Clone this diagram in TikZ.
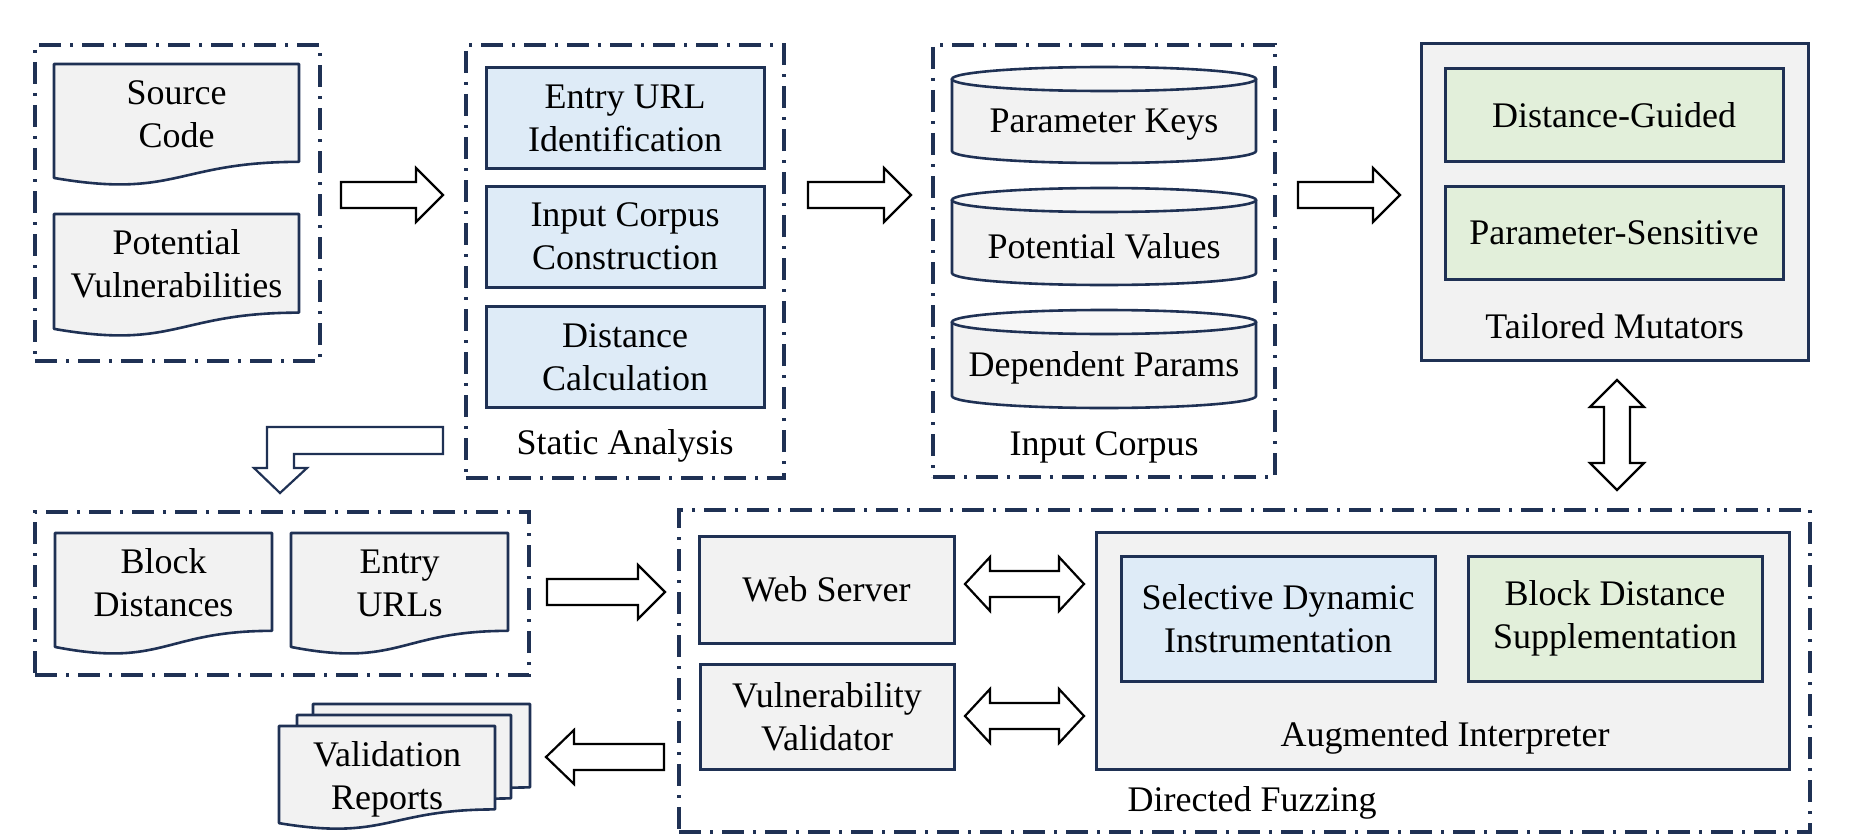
\documentclass[tikz,border=0pt]{standalone}
\usepackage{fontspec}
\setmainfont{Liberation Serif}
\definecolor{navy}{RGB}{31,49,84}
\definecolor{lgray}{RGB}{242,242,242}
\definecolor{ltop}{RGB}{247,247,247}
\definecolor{lblue}{RGB}{222,235,247}
\definecolor{lgreen}{RGB}{226,239,218}
\tikzset{
  txt/.style={align=center, font=\fontsize{36}{43}\selectfont, inner sep=0pt},
  ddbox/.style={draw=navy, line width=3.2pt, dash pattern=on 22pt off 9pt on 3pt off 9pt, inner sep=0pt},
  solidbox/.style={draw=navy, line width=3pt, txt},
  graybox/.style={solidbox, fill=lgray},
  bluebox/.style={solidbox, fill=lblue},
  greenbox/.style={solidbox, fill=lgreen},
  docline/.style={draw=navy, line width=2.6pt, fill=lgray, line join=round},
  cylline/.style={draw=navy, line width=2.6pt},
  barrow/.style={draw=black, line width=2.2pt, fill=white, line join=miter},
  larrow/.style={draw=navy, line width=2.2pt, fill=white, line join=miter},
}
% document shape: x0, y0, x1, h
\newcommand\docshape[4]{%
  \pgfmathsetmacro\dxm{(#1+#3)/2}%
  \filldraw[docline] (#1,#2) -- (#3,#2) -- (#3,#2+0.802*#4)
    .. controls (\dxm,#2+0.802*#4) and (\dxm,#2+1.107*#4) .. (#1,#2+0.934*#4) -- cycle;}
% cylinder: x0, x1, ytop, ybottom
\newcommand\cylshape[4]{%
  \pgfmathsetmacro\crx{(#2-#1)/2}%
  \pgfmathsetmacro\ccx{(#1+#2)/2}%
  \fill[lgray] (#1,#3+12) -- (#1,#4-12) arc[start angle=180,end angle=0,x radius=\crx,y radius=12] -- (#2,#3+12) -- cycle;
  \draw[cylline] (#1,#3+12) -- (#1,#4-12) arc[start angle=180,end angle=0,x radius=\crx,y radius=12] -- (#2,#3+12);
  \filldraw[cylline, fill=ltop] (\ccx,#3+12) ellipse[x radius=\crx, y radius=12];}
% right arrow: x0, x1, cy, head length
\newcommand\rarrow[4]{%
  \draw[barrow] (#1,#3-13) -- (#2-#4,#3-13) -- (#2-#4,#3-27) -- (#2,#3) -- (#2-#4,#3+27) -- (#2-#4,#3+13) -- (#1,#3+13) -- cycle;}
% left arrow: x0 (tip), x1, cy, head length
\newcommand\larr[4]{%
  \draw[barrow] (#2,#3-13) -- (#1+#4,#3-13) -- (#1+#4,#3-27) -- (#1,#3) -- (#1+#4,#3+27) -- (#1+#4,#3+13) -- (#2,#3+13) -- cycle;}
% horizontal double arrow: x0, x1, cy, head length
\newcommand\hdarrow[4]{%
  \draw[barrow] (#1,#3) -- (#1+#4,#3-27) -- (#1+#4,#3-13) -- (#2-#4,#3-13) -- (#2-#4,#3-27) -- (#2,#3) -- (#2-#4,#3+27) -- (#2-#4,#3+13) -- (#1+#4,#3+13) -- (#1+#4,#3+27) -- cycle;}
% vertical double arrow: cx, y0, y1, head length
\newcommand\vdarrow[4]{%
  \draw[barrow] (#1,#2) -- (#1+27,#2+#4) -- (#1+13,#2+#4) -- (#1+13,#3-#4) -- (#1+27,#3-#4) -- (#1,#3) -- (#1-27,#3-#4) -- (#1-13,#3-#4) -- (#1-13,#2+#4) -- (#1-27,#2+#4) -- cycle;}
\begin{document}
\begin{tikzpicture}[x=1pt,y=-1pt]
\useasboundingbox (0,0) rectangle (1849,840);

% ---------- group 1: inputs ----------
\node[ddbox, minimum width=285pt, minimum height=316pt] (g1) at (177.5,203) {};
\docshape{54}{64}{299}{122}
\node[txt] (src) at (176.5,114) {Source\\Code};
\docshape{54}{214}{299}{123}
\node[txt] (pv) at (176.5,264) {Potential\\Vulnerabilities};

% ---------- static analysis ----------
\node[ddbox, minimum width=318pt, minimum height=433pt] (sa) at (625,261.5) {};
\node[bluebox, minimum width=278pt, minimum height=101pt] (eui) at (625,118) {Entry URL\\Identification};
\node[bluebox, minimum width=278pt, minimum height=101pt] (icc) at (625,236.5) {Input Corpus\\Construction};
\node[bluebox, minimum width=278pt, minimum height=101pt] (dc) at (625,357) {Distance\\Calculation};
\node[txt] (lsa) at (625,446) {Static Analysis};

% ---------- input corpus ----------
\node[ddbox, minimum width=342pt, minimum height=432pt] (ic) at (1104,261) {};
\cylshape{952}{1256}{67}{163}
\node[txt] (pk) at (1104,125) {Parameter Keys};
\cylshape{952}{1256}{188}{285}
\node[txt] (pval) at (1104,246) {Potential Values};
\cylshape{952}{1256}{310}{408}
\node[txt] (dp) at (1104,368) {Dependent Params};
\node[txt] (lic) at (1104,447) {Input Corpus};

% ---------- tailored mutators ----------
\node[graybox, minimum width=387pt, minimum height=316pt] (tm) at (1614.5,202) {};
\node[greenbox, minimum width=338pt, minimum height=93pt] (dg) at (1614,115) {Distance-Guided};
\node[greenbox, minimum width=338pt, minimum height=93pt] (ps) at (1614,233) {Parameter-Sensitive};
\node[txt] (ltm) at (1614.5,326) {Tailored Mutators};

% ---------- top arrows ----------
\rarrow{341}{443}{195}{27}
\rarrow{808}{911}{195}{27}
\rarrow{1298}{1400}{195}{27}
\vdarrow{1617}{380}{490}{27}

% ---------- L arrow ----------
\draw[larrow] (267,427) -- (443,427) -- (443,454) -- (294,454) -- (294,468) -- (307,468)
  -- (280,493) -- (254,468) -- (267,468) -- cycle;

% ---------- static outputs ----------
\node[ddbox, minimum width=494pt, minimum height=163pt] (g2) at (282,593.5) {};
\docshape{55}{533}{272}{122}
\node[txt] (bd) at (163.5,583) {Block\\Distances};
\docshape{291}{533}{508}{122}
\node[txt] (eu) at (399.5,583) {Entry\\URLs};

% ---------- validation reports ----------
\docshape{313}{704}{530}{104}
\docshape{297}{715}{511}{104}
\docshape{279}{726}{495}{104}
\node[txt] (vr) at (387,779) {Validation\\Reports};

\rarrow{547}{665}{592}{27}
\larr{546}{664}{757}{28}

% ---------- directed fuzzing ----------
\node[ddbox, minimum width=1131pt, minimum height=322pt] (df) at (1244.5,671) {};
\node[graybox, minimum width=255pt, minimum height=107pt] (ws) at (826.5,589.5) {Web Server};
\node[graybox, minimum width=254pt, minimum height=105pt] (vv) at (827,716.5) {Vulnerability\\Validator};
\node[graybox, minimum width=693pt, minimum height=237pt] (ai) at (1442.5,650.5) {};
\node[bluebox, minimum width=314pt, minimum height=125pt] (sdi) at (1278,618.5) {Selective Dynamic\\Instrumentation};
\node[greenbox, minimum width=294pt, minimum height=125pt] (bds) at (1615,618.5) {Block Distance\\Supplementation};
\node[txt] (lai) at (1445,738) {Augmented Interpreter};
\node[txt] (ldf) at (1252,803) {Directed Fuzzing};

\hdarrow{965}{1084}{584}{25}
\hdarrow{965}{1084}{716}{25}
\end{tikzpicture}
\end{document}
